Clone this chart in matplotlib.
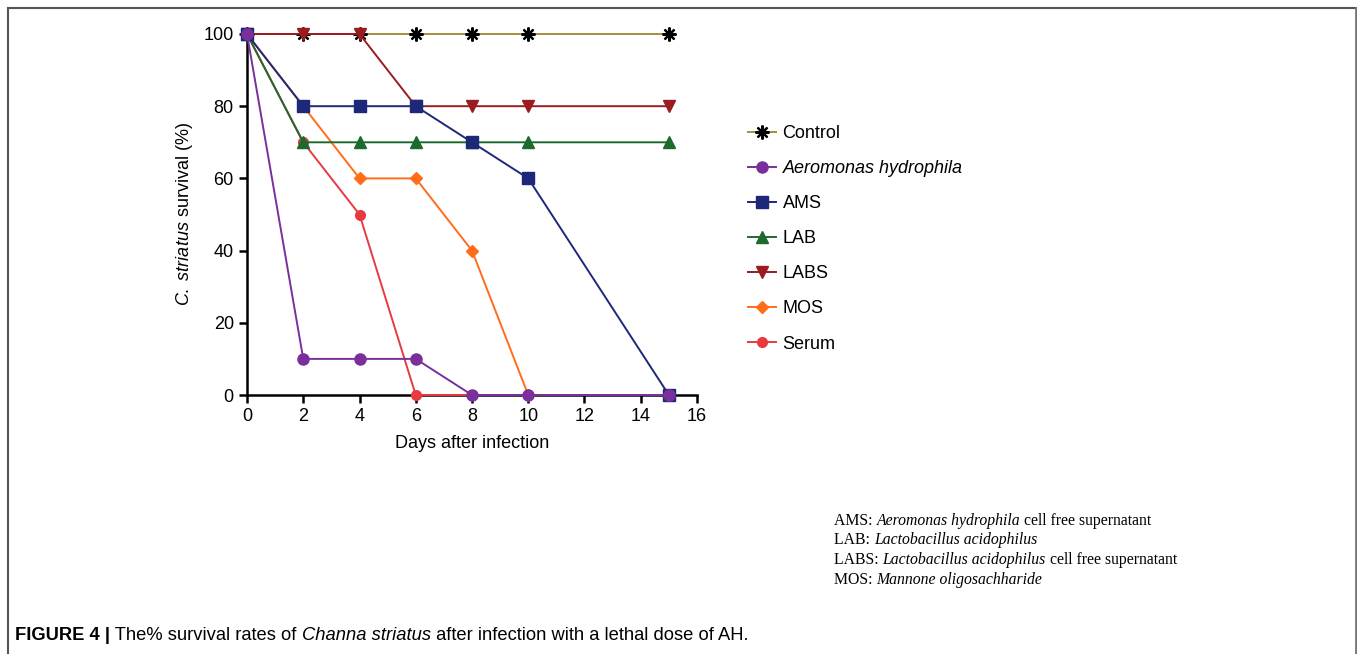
import matplotlib
matplotlib.use("Agg")
import matplotlib.pyplot as plt
from matplotlib.lines import Line2D

days = [0, 2, 4, 6, 8, 10, 15]
control = [100, 100, 100, 100, 100, 100, 100]
aeromonas = [100, 10, 10, 10, 0, 0, 0]
ams = [100, 80, 80, 80, 70, 60, 0]
lab = [100, 70, 70, 70, 70, 70, 70]
labs = [100, 100, 100, 80, 80, 80, 80]
mos = [100, 80, 60, 60, 40, 0, 0]
serum = [100, 70, 50, 0, 0, 0, 0]

x_ticks = [0, 2, 4, 6, 8, 10, 12, 14, 16]
y_ticks = [0, 20, 40, 60, 80, 100]

plt.rcParams['font.family'] = ['Liberation Sans', 'DejaVu Sans']
plt.rcParams['mathtext.fontset'] = 'custom'
plt.rcParams['mathtext.rm'] = 'Liberation Sans'
plt.rcParams['mathtext.it'] = 'Liberation Sans:italic'

FS = 13

fig = plt.figure(figsize=(13.57, 6.54), dpi=100)
ax = fig.add_axes([247/1357, 1-395/654, 450/1357, 361/654])

series = [
    ("Control", control, "#a38f40", (8, 2, 0), "black", 10),
    ("Serum", serum, "#e8393f", "o", "#e8393f", 7),
    ("MOS", mos, "#ff6d1a", "D", "#ff6d1a", 6.5),
    ("LABS", labs, "#9a1c1f", "v", "#9a1c1f", 8),
    ("LAB", lab, "#1d6a2f", "^", "#1d6a2f", 8),
    ("AMS", ams, "#1e2878", "s", "#1e2878", 8),
    ("Aeromonas hydrophila", aeromonas, "#7a2f9c", "o", "#7a2f9c", 8),
]
handles = {}
for name, vals, lc, mk, mc, ms in series:
    mew = 1.6 if name == "Control" else 1.0
    h, = ax.plot(days, vals, color=lc, lw=1.4, marker=mk, ms=ms,
                 markeredgecolor=mc, markerfacecolor=mc, mew=mew, clip_on=False, zorder=3)
    handles[name] = h

ax.set_xlim(0, 16)
ax.set_ylim(0, 100)
ax.set_xticks(x_ticks)
ax.set_yticks(y_ticks)
for s in ["top", "right"]:
    ax.spines[s].set_visible(False)
for s in ["left", "bottom"]:
    ax.spines[s].set_linewidth(1.8)
    ax.spines[s].set_color("black")
ax.tick_params(axis="both", direction="out", length=6, width=1.8, labelsize=FS, colors="black")
ax.set_xlabel("Days after infection", fontsize=FS, labelpad=7)
ax.set_ylabel(r"$\it{C.\ striatus}$ survival (%)", fontsize=FS, labelpad=6)

order = ["Control", "Aeromonas hydrophila", "AMS", "LAB", "LABS", "MOS", "Serum"]
leg = fig.legend([handles[o] for o in order], order, loc="upper left",
                 bbox_to_anchor=(741/1357, 1-118/654), frameon=False,
                 fontsize=FS, handlelength=1.55, labelspacing=1.0, handletextpad=0.35,
                 borderaxespad=0)
for t in leg.get_texts():
    if t.get_text() == "Aeromonas hydrophila":
        t.set_fontstyle("italic")

# footnotes
notes = [
    ("AMS: ", "Aeromonas hydrophila", " cell free supernatant"),
    ("LAB: ", "Lactobacillus acidophilus", ""),
    ("LABS: ", "Lactobacillus acidophilus", " cell free supernatant"),
    ("MOS: ", "Mannone oligosachharide", ""),
]
y0 = 521
NFS = 11.3
fig.canvas.draw()
r = fig.canvas.get_renderer()
for i, (a, b, c) in enumerate(notes):
    y = 1 - (y0 + i*19.5)/654
    t1 = fig.text(834/1357, y, a, fontsize=NFS, family="Liberation Serif", va="center")
    bb = t1.get_window_extent(r)
    t2 = fig.text(bb.x1/1357, y, b, fontsize=NFS, family="Liberation Serif", style="italic", va="center")
    bb2 = t2.get_window_extent(r)
    if c:
        fig.text(bb2.x1/1357, y, c, fontsize=NFS, family="Liberation Serif", va="center")

# caption
cy = 1 - 636/654
CFS = 13.2
c1 = fig.text(15/1357, cy, "FIGURE 4 |", fontsize=CFS, weight="bold", va="center")
bb = c1.get_window_extent(r)
c2 = fig.text(bb.x1/1357, cy, " The% survival rates of ", fontsize=CFS, va="center")
bb = c2.get_window_extent(r)
c3 = fig.text(bb.x1/1357, cy, "Channa striatus", fontsize=CFS, style="italic", va="center")
bb = c3.get_window_extent(r)
fig.text(bb.x1/1357, cy, " after infection with a lethal dose of AH.", fontsize=CFS, va="center")

# border
fig.add_artist(Line2D([8/1357, 8/1357], [0, 1-8/654], color="#555555", lw=1.5, transform=fig.transFigure))
fig.add_artist(Line2D([8/1357, 1356/1357], [1-8/654, 1-8/654], color="#555555", lw=1.5, transform=fig.transFigure))
fig.add_artist(Line2D([1355.5/1357, 1355.5/1357], [0, 1-8/654], color="#777777", lw=2, transform=fig.transFigure))

fig.savefig("out.png", dpi=100)
